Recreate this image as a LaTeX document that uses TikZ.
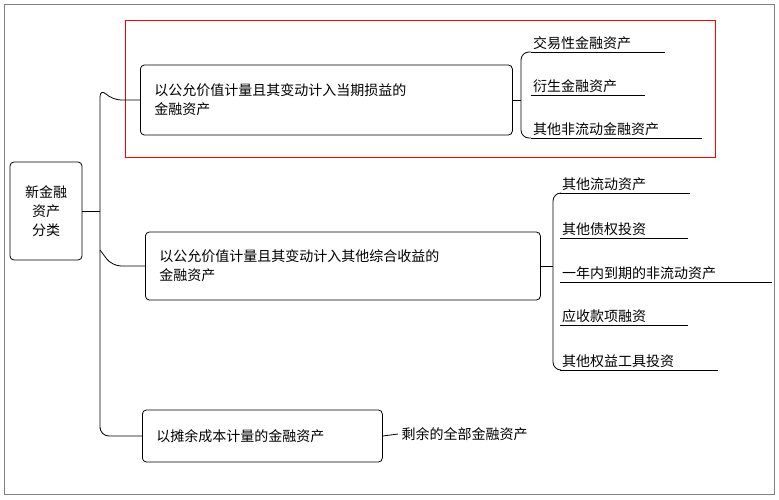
\documentclass[tikz,border=0pt]{standalone}
\usepackage{fontspec}
\newfontfamily\cjk{Noto Sans CJK SC}
\begin{document}
\begin{tikzpicture}[x=1pt,y=-1pt,
  every node/.style={font=\cjk\fontsize{14}{19}\selectfont},
  box/.style={draw,thick,rounded corners=4pt,align=left,inner xsep=14pt},
  leaf/.style={anchor=south west,inner sep=2pt},
  ln/.style={thick}]
\useasboundingbox (0,0) rectangle (779,500);
\draw[gray,thick] (4,4) rectangle (774,494);
\node[box,minimum width=72,minimum height=98,align=center,inner xsep=4pt] (root) at (46,211) {新金融\\资产\\分类};
\node[box,anchor=west,minimum width=372,minimum height=70,text width=344] (b1) at (140,100) {以公允价值计量且其变动计入当期损益的\\金融资产};
\node[box,anchor=west,minimum width=395,minimum height=68,text width=367] (b2) at (145,266) {以公允价值计量且其变动计入其他综合收益的\\金融资产};
\node[box,anchor=west,minimum height=52,text width=212] (b3) at (142,436) {以摊余成本计量的金融资产};
\node[anchor=west] (r3) at (398,434) {剩余的全部金融资产};
\draw[red,thick] (125,20) rectangle (715,157);
\coordinate (j) at (100,211);
\draw[ln] (root.east) -- (j);
\draw[ln,rounded corners=9pt] (b1.west) -- (112,100) -- (100,88) -- (j) -- (100,420) |- (b3.west);
\draw[ln,rounded corners=9pt] (100,250) -- (112,266) -- (b2.west);
\draw[ln] (b3.east) -- (r3.west);
\foreach \n/\t/\y/\e in {a1/交易性金融资产/52/665,a2/衍生金融资产/95/645,a3/其他非流动金融资产/138/702}{
  \node[leaf] (\n) at (531,\y) {\t};
  \draw[ln] (\n.south west) -- (\e,\y);}
\draw[ln,rounded corners=8pt] (a1.south west) -| (521,100) |- (a3.south west);
\draw[ln] (b1.east) -- (521,100);
\foreach \n/\t/\y/\e in {c1/其他流动资产/193/690,c2/其他债权投资/238/688,c3/一年内到期的非流动资产/282/772,c4/应收款项融资/325/688,c5/其他权益工具投资/370/718}{
  \node[leaf] (\n) at (560,\y) {\t};
  \draw[ln] (\n.south west) -- (\e,\y);}
\draw[ln,rounded corners=8pt] (c1.south west) -| (553,266) |- (c5.south west);
\draw[ln] (b2.east) -- (553,266);
\end{tikzpicture}
\end{document}
